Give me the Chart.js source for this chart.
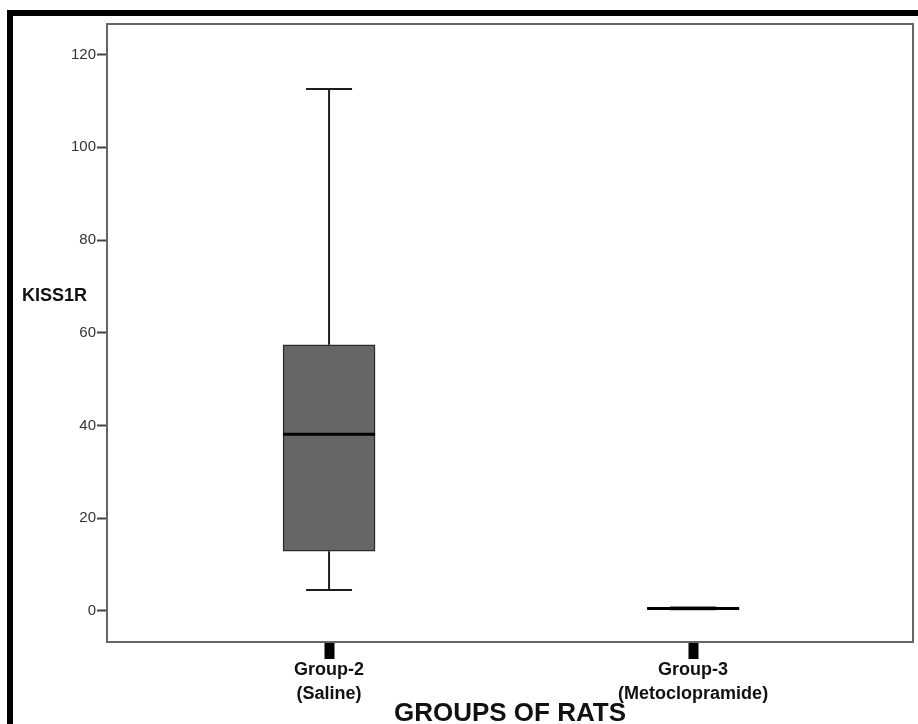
<!DOCTYPE html>
<html>
<head>
<meta charset="utf-8">
<script src="https://cdn.jsdelivr.net/npm/chart.js@4.4.0/dist/chart.umd.min.js"></script>
<style>
    html, body { margin: 0; padding: 0; background: #ffffff; }
    #wrap { position: relative; width: 918px; height: 724px; overflow: hidden; }
    #frame {
        position: absolute; left: 7px; top: 10px; right: -10px; bottom: -10px;
        border-left: 6px solid #000; border-top: 6px solid #000;
    }
    #boxChart { position: absolute; left: 0; top: 0; }
</style>
</head>
<body>
<div id="wrap">
    <div id="frame"></div>
    <canvas id="boxChart" width="918" height="724"></canvas>
</div>
<script>
// ------------------------------------------------------------
// KISS1R by group - box plot (floating bars + whiskers)
// ------------------------------------------------------------

const groupPos = [1, 2];
const groupLabels = [['Group-2', '(Saline)'], ['Group-3', '(Metoclopramide)']];
const minVals = [4.5, 0.35];
const q1Vals = [12.9, 0.45];
const medianVals = [38.1, 0.55];
const q3Vals = [57.4, 0.65];
const maxVals = [112.6, 0.75];
const yTickValues = [0, 20, 40, 60, 80, 100, 120];

const yAxisTitle = 'KISS1R';
const xAxisTitle = 'GROUPS OF RATS';

const BOX_WIDTH = 92;

// Whiskers, caps, median and plot frame
const boxPlotExtras = {
    id: 'boxPlotExtras',
    afterDatasetsDraw(chart) {
        const { ctx, chartArea, scales } = chart;
        const x = scales.x, y = scales.y;
        ctx.save();

        groupPos.forEach((g, i) => {
            const cx = x.getPixelForValue(g);
            const half = BOX_WIDTH / 2;
            const capHalf = BOX_WIDTH / 4;
            const yMin = y.getPixelForValue(minVals[i]);
            const yQ1 = y.getPixelForValue(q1Vals[i]);
            const yMed = y.getPixelForValue(medianVals[i]);
            const yQ3 = y.getPixelForValue(q3Vals[i]);
            const yMax = y.getPixelForValue(maxVals[i]);

            ctx.strokeStyle = '#1e1e1e';
            ctx.lineWidth = 2;
            ctx.beginPath();
            ctx.moveTo(cx, yQ3); ctx.lineTo(cx, yMax);
            ctx.moveTo(cx, yQ1); ctx.lineTo(cx, yMin);
            ctx.moveTo(cx - capHalf, yMax); ctx.lineTo(cx + capHalf, yMax);
            ctx.moveTo(cx - capHalf, yMin); ctx.lineTo(cx + capHalf, yMin);
            ctx.stroke();

            ctx.strokeStyle = '#000';
            ctx.lineWidth = 3;
            ctx.beginPath();
            ctx.moveTo(cx - half, yMed); ctx.lineTo(cx + half, yMed);
            ctx.stroke();
        });

        // plot frame (top + right)
        ctx.strokeStyle = '#666';
        ctx.lineWidth = 2;
        ctx.beginPath();
        ctx.moveTo(chartArea.left, chartArea.top);
        ctx.lineTo(chartArea.right, chartArea.top);
        ctx.lineTo(chartArea.right, chartArea.bottom);
        ctx.stroke();

        // axis titles
        ctx.fillStyle = '#111';
        ctx.font = 'bold 18px Arial, "Liberation Sans", sans-serif';
        ctx.textAlign = 'left';
        ctx.textBaseline = 'middle';
        ctx.fillText(yAxisTitle, 22, 296);

        ctx.font = 'bold 26px Arial, "Liberation Sans", sans-serif';
        ctx.textAlign = 'center';
        ctx.textBaseline = 'alphabetic';
        ctx.fillText(xAxisTitle, (chartArea.left + chartArea.right) / 2, 721);
        ctx.restore();
    }
};

const ctx = document.getElementById('boxChart').getContext('2d');
const boxChart = new Chart(ctx, {
    type: 'bar',
    data: {
        datasets: [{
            label: yAxisTitle,
            data: groupPos.map((g, i) => ({ x: g, y: [q1Vals[i], q3Vals[i]] })),
            backgroundColor: '#666666',
            borderColor: '#2a2a2a',
            borderWidth: 1.5,
            borderSkipped: false,
            barThickness: BOX_WIDTH
        }]
    },
    options: {
        responsive: false,
        animation: false,
        layout: { padding: { left: 0, right: 5, top: 24, bottom: 0 } },
        plugins: {
            legend: { display: false },
            tooltip: { enabled: false }
        },
        scales: {
            x: {
                type: 'linear',
                min: 0.39,
                max: 2.604,
                offset: false,
                afterBuildTicks: (scale) => { scale.ticks = groupPos.map(v => ({ value: v })); },
                afterFit: (scale) => { scale.height = 82; },
                ticks: {
                    color: '#111',
                    font: { family: 'Arial, "Liberation Sans", sans-serif', size: 18, weight: 'bold', lineHeight: 1.28 },
                    padding: 0,
                    maxRotation: 0,
                    autoSkip: false,
                    callback: (value) => groupLabels[groupPos.indexOf(value)] || ''
                },
                grid: {
                    offset: false,
                    drawOnChartArea: false,
                    tickLength: 17,
                    tickWidth: 10,
                    tickColor: '#000'
                },
                border: { display: true, color: '#666', width: 2 }
            },
            y: {
                min: -6.7,
                max: 126.6,
                afterBuildTicks: (scale) => { scale.ticks = yTickValues.map(v => ({ value: v })); },
                afterFit: (scale) => { scale.width = 107; },
                ticks: {
                    color: '#333',
                    font: { family: 'Arial, "Liberation Sans", sans-serif', size: 15 },
                    padding: 1
                },
                grid: {
                    drawOnChartArea: false,
                    tickLength: 10,
                    tickWidth: 2,
                    tickColor: '#444'
                },
                border: { display: true, color: '#666', width: 2 }
            }
        }
    },
    plugins: [boxPlotExtras]
});
</script>
</body>
</html>
